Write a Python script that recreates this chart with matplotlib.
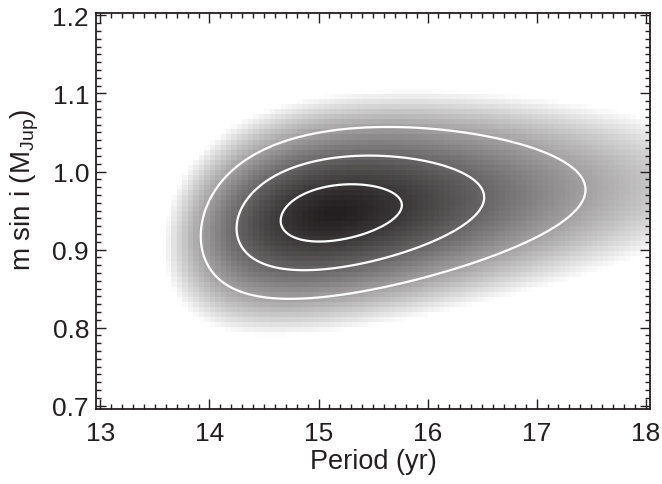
import numpy as np
import matplotlib
matplotlib.use("Agg")
import matplotlib.pyplot as plt
from matplotlib.colors import LinearSegmentedColormap
from matplotlib.ticker import MultipleLocator

# Posterior summary of the orbit fit: log-normal in period, normal in m sin i
period_offset = 12.5        # yr, shift used for the log-period coordinate
log_period_mean = 0.975
log_period_sigma = 0.208
mass_mean = 0.947           # M_Jup
mass_sigma = 0.0367
correlation = 0.27
contour_sigmas = [1, 2, 3]
shade_limit = 4.3           # sigma at which the shading reaches white
shade_power = 1.5

x_ticks = [13, 14, 15, 16, 17, 18]
y_ticks = [0.7, 0.8, 0.9, 1.0, 1.1, 1.2]
x_limits = (12.96, 18.04)
y_limits = (0.696, 1.203)
period_bin = 0.05
mass_bin = 0.0065

INK = "#231f20"
FS = 19


def mahalanobis_sq(period, mass):
    zu = (np.log(period - period_offset) - log_period_mean) / log_period_sigma
    zy = (mass - mass_mean) / mass_sigma
    return (zu**2 - 2 * correlation * zu * zy + zy**2) / (1 - correlation**2)


plt.rcParams["font.family"] = ["Liberation Sans", "DejaVu Sans"]
plt.rcParams["mathtext.fontset"] = "custom"
plt.rcParams["mathtext.rm"] = "Liberation Sans"

fig = plt.figure(figsize=(6.62, 4.85), dpi=100)
ax = fig.add_axes([0.145, 0.155, 0.837, 0.816])

# binned shading
xe = np.arange(12.95, 18.1, period_bin)
ye = np.arange(0.69, 1.21, mass_bin)
xc = 0.5 * (xe[:-1] + xe[1:])
yc = 0.5 * (ye[:-1] + ye[1:])
XC, YC = np.meshgrid(xc, yc)
r = np.sqrt(mahalanobis_sq(XC, YC))
shade = np.clip((r / shade_limit) ** shade_power, 0, 1)
cmap = LinearSegmentedColormap.from_list("ink", [INK, "#ffffff"])
ax.imshow(shade, extent=(xe[0], xe[-1], ye[0], ye[-1]), origin="lower",
          aspect="auto", interpolation="nearest", cmap=cmap, vmin=0, vmax=1,
          zorder=1)

# confidence contours
xf = np.linspace(13.2, 18.5, 500)
yf = np.linspace(0.75, 1.15, 400)
XF, YF = np.meshgrid(xf, yf)
rf = np.sqrt(mahalanobis_sq(XF, YF))
ax.contour(XF, YF, rf, levels=contour_sigmas, colors="white",
           linewidths=1.6, zorder=2)

ax.set_xlim(*x_limits)
ax.set_ylim(*y_limits)
ax.set_xticks(x_ticks)
ax.set_yticks(y_ticks)
ax.set_xticklabels([str(t) for t in x_ticks])
ax.set_yticklabels([f"{t:.1f}" for t in y_ticks])
ax.xaxis.set_minor_locator(MultipleLocator(0.1))
ax.yaxis.set_minor_locator(MultipleLocator(0.01))
ax.tick_params(which="both", direction="in", top=True, right=True,
               color=INK, labelcolor=INK, labelsize=FS)
ax.tick_params(which="major", length=7.5, width=1.0)
ax.tick_params(which="minor", length=3.3, width=1.0)
ax.tick_params(axis="x", which="major", pad=9)
ax.tick_params(axis="y", which="major", pad=5)
for s in ax.spines.values():
    s.set_linewidth(1.3)
    s.set_color(INK)
    s.set_zorder(5)

ax.set_xlabel("Period (yr)", fontsize=19.5, color=INK, labelpad=2)
ax.set_ylabel(r"m sin i (M$_{\mathrm{Jup}}$)", fontsize=20, color=INK)
ax.yaxis.set_label_coords(-0.1, 0.555)

fig.savefig("out.png", dpi=100)
